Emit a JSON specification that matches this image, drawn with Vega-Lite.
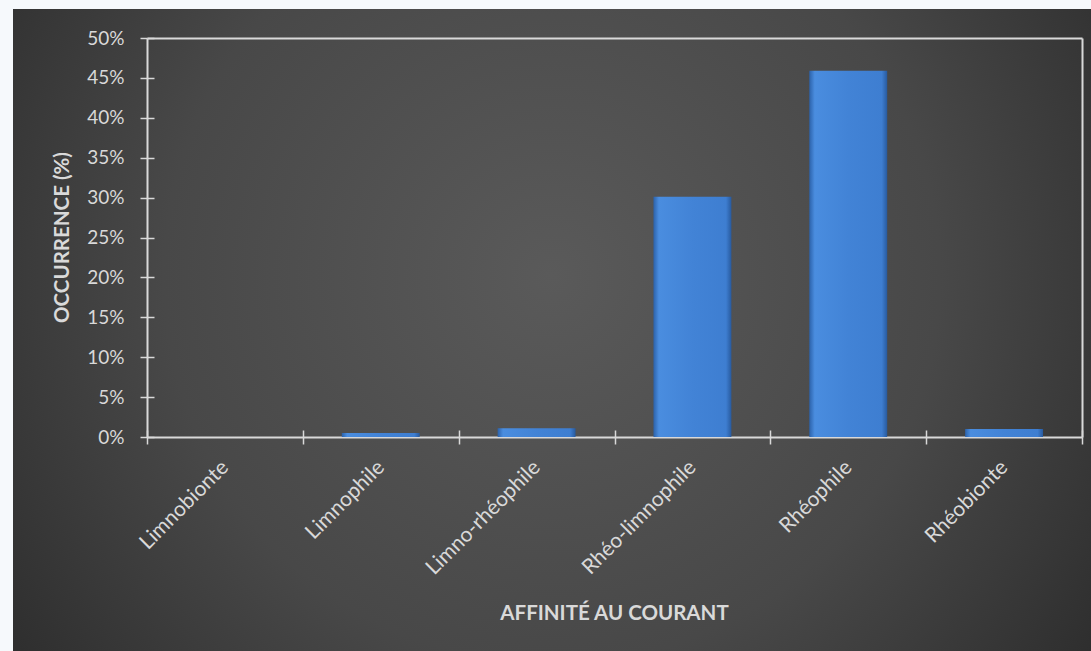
{
  "$schema": "https://vega.github.io/schema/vega-lite/v6.json",
  "autosize": "none",
  "width": 1078,
  "height": 642,
  "padding": {"left": 13, "top": 9, "right": 0, "bottom": 0},
  "background": "#f6f9fc",
  "config": {
    "font": "Lato",
    "view": {
      "stroke": null,
      "fill": {
        "gradient": "radial",
        "x1": 0.5, "y1": 0.45, "r1": 0,
        "x2": 0.5, "y2": 0.45, "r2": 0.72,
        "stops": [
          {"offset": 0, "color": "#5a5a5a"},
          {"offset": 0.5, "color": "#484848"},
          {"offset": 1, "color": "#232323"}
        ]
      }
    },
    "axis": {
      "domainColor": "#d9d9d9",
      "domainWidth": 2,
      "tickColor": "#d9d9d9",
      "tickWidth": 1.5,
      "labelColor": "#d9d9d9",
      "labelFont": "Lato",
      "titleColor": "#d9d9d9",
      "titleFont": "Lato",
      "titleFontWeight": "bold",
      "titleFontSize": 20.5,
      "titleBaseline": "alphabetic",
      "grid": false
    }
  },
  "data": {
    "values": [
      {"affinite": "Limnobionte", "occurrence": 0.0},
      {"affinite": "Limnophile", "occurrence": 0.005},
      {"affinite": "Limno-rhéophile", "occurrence": 0.011},
      {"affinite": "Rhéo-limnophile", "occurrence": 0.301},
      {"affinite": "Rhéophile", "occurrence": 0.459},
      {"affinite": "Rhéobionte", "occurrence": 0.010}
    ]
  },
  "resolve": {"axis": {"x": "independent", "y": "independent"}},
  "layer": [
    {
      "mark": {
        "type": "bar",
        "width": {"band": 0.5},
        "color": {
          "gradient": "linear",
          "x1": 0, "y1": 0, "x2": 1, "y2": 0,
          "stops": [
            {"offset": 0, "color": "#2c62aa"},
            {"offset": 0.07, "color": "#4a8ddf"},
            {"offset": 0.5, "color": "#4283d6"},
            {"offset": 0.93, "color": "#3e7ed1"},
            {"offset": 1, "color": "#285a9e"}
          ]
        }
      },
      "encoding": {
        "x": {
          "field": "affinite",
          "type": "nominal",
          "sort": null,
          "scale": {"paddingInner": 0, "paddingOuter": 0, "range": [134, 1069]},
          "axis": {
            "orient": "bottom",
            "offset": -214,
            "title": "AFFINITÉ AU COURANT",
            "titleX": 601,
            "titleY": 182,
            "labelFontSize": 21,
            "labelAngle": -45,
            "labelAlign": "right",
            "labelBaseline": "middle",
            "tickBand": "extent",
            "tickSize": 7,
            "labelPadding": 20
          }
        },
        "y": {
          "field": "occurrence",
          "type": "quantitative",
          "scale": {"domain": [0, 0.5], "nice": false, "range": [428, 29]},
          "axis": {
            "orient": "left",
            "offset": -134,
            "title": "OCCURRENCE (%)",
            "titleX": -79,
            "titleY": 228,
            "format": ".0%",
            "labelFontSize": 19,
            "values": [0, 0.05, 0.1, 0.15, 0.2, 0.25, 0.3, 0.35, 0.4, 0.45, 0.5],
            "tickSize": 7,
            "labelPadding": 16
          }
        }
      }
    },
    {
      "mark": {"type": "point", "opacity": 0},
      "encoding": {
        "x": {
          "field": "affinite",
          "type": "nominal",
          "sort": null,
          "axis": {
            "orient": "top",
            "offset": -29,
            "title": null,
            "labels": false,
            "ticks": false
          }
        },
        "y": {
          "field": "occurrence",
          "type": "quantitative",
          "axis": {
            "orient": "right",
            "offset": -9,
            "title": null,
            "labels": false,
            "ticks": false
          }
        }
      }
    },
    {
      "mark": {"type": "point", "opacity": 0},
      "encoding": {
        "x": {
          "field": "affinite",
          "type": "nominal",
          "sort": null,
          "axis": {
            "orient": "bottom",
            "offset": -221,
            "title": null,
            "labels": false,
            "domain": false,
            "tickBand": "extent",
            "tickSize": 7
          }
        },
        "y": {
          "field": "occurrence",
          "type": "quantitative",
          "axis": {
            "orient": "left",
            "offset": -141,
            "title": null,
            "labels": false,
            "domain": false,
            "values": [0, 0.05, 0.1, 0.15, 0.2, 0.25, 0.3, 0.35, 0.4, 0.45, 0.5],
            "tickSize": 7
          }
        }
      }
    }
  ]
}
